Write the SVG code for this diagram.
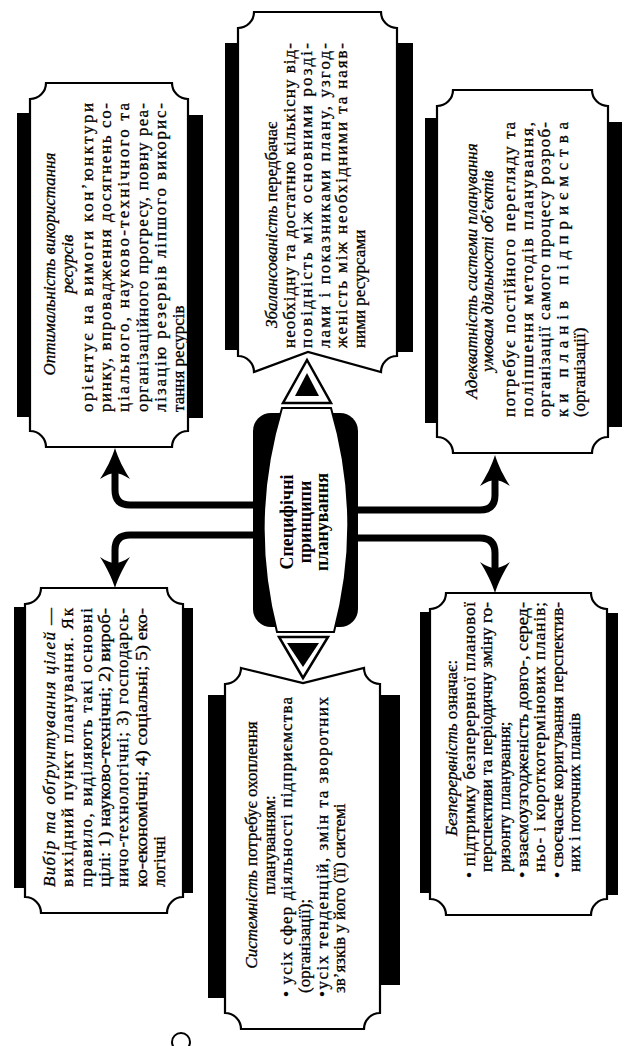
<svg xmlns="http://www.w3.org/2000/svg" width="633" height="1046" viewBox="0 0 633 1046">
<style>
.box{fill:#fff;stroke:#000;stroke-width:2.2}
.bar{fill:#000}
.t{font-family:"Liberation Serif","Times New Roman",serif;font-size:17px;fill:#000;stroke:#000;stroke-width:0.3}
.i{font-style:italic}
.c{text-anchor:middle}
.ct{font-family:"Liberation Serif","Times New Roman",serif;font-size:18px;font-weight:bold;text-anchor:middle;fill:#000}
.conn{fill:none;stroke:#000;stroke-width:7}
</style>
<defs>
<path id="ah" d="M0 0 C3 10 9 22 15 31 C9 27 4 25 0 25 C-4 25 -9 27 -15 31 C-9 22 -3 10 0 0 Z" fill="#000"/>
</defs>
<rect width="633" height="1046" fill="#fff"/>

<g id="connectors">
<path class="conn" d="M262 505 H130 Q115 505 115 490 V470"/>
<path class="conn" d="M262 535 H130 Q115 535 115 550 V566"/>
<path class="conn" d="M350 510 H480 Q495 510 495 495 V477"/>
<path class="conn" d="M350 538 H480 Q495 538 495 553 V571"/>
<use href="#ah" transform="translate(115,448)"/>
<use href="#ah" transform="translate(115,588) rotate(180)"/>
<use href="#ah" transform="translate(495,455)"/>
<use href="#ah" transform="translate(495,593) rotate(180)"/>
<path d="M307 360 L331 403 H283 Z" fill="#fff" stroke="#000" stroke-width="2.5"/>
<path d="M307 373 L319 396 H295 Z" fill="#000"/>
<path d="M303 678 L328 637 H279 Z" fill="#fff" stroke="#000" stroke-width="2.5"/>
<path d="M303 667 L319 643 H287 Z" fill="#000"/>
</g>

<g id="center">
<rect x="253" y="413" width="105" height="214" rx="18" fill="#000"/>
<path d="M282 408 H331 Q364 520 334 632 H277 Q248 520 282 408 Z" fill="#fff" stroke="#000" stroke-width="2"/>
<g transform="translate(0,522) rotate(-90)">
<text class="ct" x="0" y="293">Специфічні</text>
<text class="ct" x="0" y="311">принципи</text>
<text class="ct" x="0" y="328">планування</text>
</g>
</g>

<g id="optimal">
<rect class="bar" x="17" y="113" width="20" height="304"/>
<rect class="bar" x="181" y="115" width="22" height="303"/>
<path class="box" d="M46 83 H172 A16 16 0 0 0 188 99 V431 A16 16 0 0 0 172 447 H46 A16 16 0 0 0 30 431 V99 A16 16 0 0 0 46 83 Z"/>
<g transform="translate(0,412) rotate(-90)">
<text class="t i c" x="148" y="55">Оптимальність використання</text>
<text class="t i c" x="148" y="73">ресурсів</text>
<text class="t" x="0" y="93" textLength="309" lengthAdjust="spacing">орієнтує на вимоги кон’юнктури</text>
<text class="t" x="0" y="111" textLength="309" lengthAdjust="spacing">ринку, впровадження досягнень со-</text>
<text class="t" x="0" y="129" textLength="309" lengthAdjust="spacing">ціального, науково-технічного та</text>
<text class="t" x="0" y="148" textLength="309" lengthAdjust="spacing">організаційного прогресу, повну реа-</text>
<text class="t" x="0" y="166" textLength="309" lengthAdjust="spacing">лізацію резервів ліпшого викорис-</text>
<text class="t" x="0" y="184">тання ресурсів</text>
</g>
</g>

<g id="balance">
<rect class="bar" x="225" y="43" width="20" height="307"/>
<rect class="bar" x="390" y="43" width="23" height="309"/>
<path class="box" d="M254 12 H381 A16 16 0 0 0 397 28 V356 A16 16 0 0 0 381 372 L308 352 L254 372 A16 16 0 0 0 238 356 V28 A16 16 0 0 0 254 12 Z"/>
<g transform="translate(0,348) rotate(-90)">
<text class="t" x="20" y="277"><tspan class="i">Збалансованість</tspan> передбачає</text>
<text class="t" x="0" y="295" textLength="305" lengthAdjust="spacing">необхідну та достатню кількісну від-</text>
<text class="t" x="0" y="312" textLength="305" lengthAdjust="spacing">повідність між основними розді-</text>
<text class="t" x="0" y="330" textLength="305" lengthAdjust="spacing">лами і показниками плану, узгод-</text>
<text class="t" x="0" y="347" textLength="305" lengthAdjust="spacing">женість між необхідними та наяв-</text>
<text class="t" x="0" y="365">ними ресурсами</text>
</g>
</g>

<g id="adequacy">
<rect class="bar" x="425" y="118" width="20" height="305"/>
<rect class="bar" x="600" y="122" width="22" height="305"/>
<path class="box" d="M453 90 H592 A16 16 0 0 0 608 106 V437 A16 16 0 0 0 592 453 H453 A16 16 0 0 0 437 437 V106 A16 16 0 0 0 453 90 Z"/>
<g transform="translate(0,417) rotate(-90)">
<text class="t i c" x="146" y="477">Адекватність системи планування</text>
<text class="t i c" x="146" y="493">умовам діяльності об’єктів</text>
<text class="t" x="0" y="515" textLength="295" lengthAdjust="spacing">потребує постійного перегляду та</text>
<text class="t" x="0" y="533" textLength="295" lengthAdjust="spacing">поліпшення методів планування,</text>
<text class="t" x="0" y="550" textLength="295" lengthAdjust="spacing">організації самого процесу розроб-</text>
<text class="t" x="0" y="568" textLength="295" lengthAdjust="spacing">ки планів підприємства</text>
<text class="t" x="0" y="585">(організації)</text>
</g>
</g>

<g id="goals">
<rect class="bar" x="14" y="607" width="20" height="281"/>
<rect class="bar" x="175" y="608" width="18" height="285"/>
<path class="box" d="M41 588 H167 A16 16 0 0 0 183 604 V897 A16 16 0 0 0 167 913 H41 A16 16 0 0 0 25 897 V604 A16 16 0 0 0 41 588 Z"/>
<g transform="translate(0,887) rotate(-90)">
<text class="t" x="0" y="55" textLength="279" lengthAdjust="spacing"><tspan class="i">Вибір та обґрунтування цілей</tspan> —</text>
<text class="t" x="0" y="73" textLength="279" lengthAdjust="spacing">вихідний пункт планування. Як</text>
<text class="t" x="0" y="92" textLength="279" lengthAdjust="spacing">правило, виділяють такі основні</text>
<text class="t" x="0" y="110" textLength="279" lengthAdjust="spacingAndGlyphs">цілі: 1) науково-технічні; 2) вироб-</text>
<text class="t" x="0" y="128" textLength="279" lengthAdjust="spacing">ничо-технологічні; 3) господарсь-</text>
<text class="t" x="0" y="147" textLength="279" lengthAdjust="spacingAndGlyphs">ко-економічні; 4) соціальні; 5) еко-</text>
<text class="t" x="0" y="165">логічні</text>
</g>
</g>

<g id="continuity">
<rect class="bar" x="420" y="612" width="18" height="281"/>
<rect class="bar" x="600" y="613" width="18" height="282"/>
<path class="box" d="M446 593 H591 A16 16 0 0 0 607 609 V899 A16 16 0 0 0 591 915 H446 A16 16 0 0 0 430 899 V609 A16 16 0 0 0 446 593 Z"/>
<g transform="translate(0,878) rotate(-90)">
<text class="t c" x="130" y="457"><tspan class="i">Безперервність</tspan> означає:</text>
<text class="t" x="0" y="475" textLength="276" lengthAdjust="spacing">• підтримку безперервної планової</text>
<text class="t" x="6" y="492" textLength="270" lengthAdjust="spacingAndGlyphs">перспективи та періодичну зміну го-</text>
<text class="t" x="6" y="510">ризонту планування;</text>
<text class="t" x="0" y="528" textLength="276" lengthAdjust="spacingAndGlyphs">• взаємоузгодженість довго-, серед-</text>
<text class="t" x="6" y="545" textLength="270" lengthAdjust="spacing">ньо- і короткотермінових планів;</text>
<text class="t" x="0" y="563" textLength="276" lengthAdjust="spacingAndGlyphs">• своєчасне коригування перспектив-</text>
<text class="t" x="6" y="580">них і поточних планів</text>
</g>
</g>

<g id="system">
<rect class="bar" x="208" y="695" width="25" height="303"/>
<rect class="bar" x="372" y="695" width="28" height="290"/>
<path class="box" d="M241 668 L303 683 L364 668 A16 16 0 0 0 380 684 V1013 A16 16 0 0 0 364 1029 H241 A16 16 0 0 0 225 1013 V684 A16 16 0 0 0 241 668 Z"/>
<g transform="translate(0,997) rotate(-90)">
<text class="t c" x="152" y="257"><tspan class="i">Системність</tspan> потребує охоплення</text>
<text class="t c" x="152" y="275">плануванням:</text>
<text class="t" x="0" y="292" textLength="300" lengthAdjust="spacing">• усіх сфер діяльності підприємства</text>
<text class="t" x="4" y="310">(організації);</text>
<text class="t" x="0" y="328" textLength="300" lengthAdjust="spacing">•усіх тенденцій, змін та зворотних</text>
<text class="t" x="4" y="345">зв’язків у його (її) системі</text>
</g>
</g>

<circle cx="181" cy="1042" r="9" fill="none" stroke="#000" stroke-width="2"/>
</svg>
